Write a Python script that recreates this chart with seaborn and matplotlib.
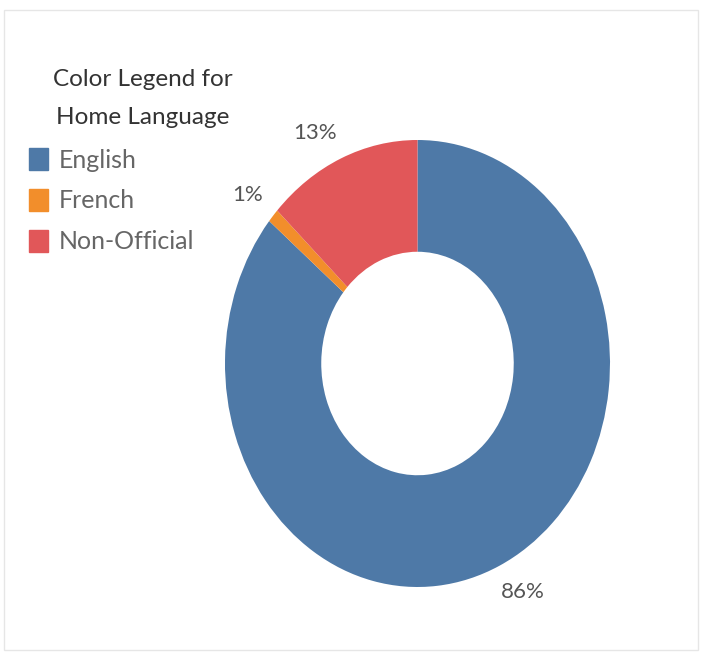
import numpy as np
import matplotlib.pyplot as plt
import matplotlib.patches as mpatches
import seaborn as sns

# home language shares (percent)
languages = ["English", "French", "Non-Official"]
shares = [86, 1, 13]
colors = ["#4e79a7", "#f28e2b", "#e15759"]

sns.set_theme(style="white")
plt.rcParams['font.family'] = ['Lato', 'DejaVu Sans']

fig = plt.figure(figsize=(7.02, 6.53), dpi=100)

# donut is a bit taller than wide in the reference, so no equal aspect
ax = fig.add_axes([225/702, 66/653, 385/702, 447/653])
wedges, texts = ax.pie(shares, colors=colors, startangle=90, counterclock=False,
                       radius=1, wedgeprops=dict(width=0.5, linewidth=0))
ax.set_aspect('auto')
ax.set_xlim(-1, 1)
ax.set_ylim(-1, 1)
ax.axis('off')

# percent labels just outside each wedge (small angle nudge like tableau does)
nudge = [3, 1, 4]
for w, s, n in zip(wedges, shares, nudge):
    ang = np.deg2rad((w.theta1 + w.theta2) / 2 + n)
    ax.text(1.16 * np.cos(ang), 1.16 * np.sin(ang), '{}%'.format(s),
            ha="center", va="center", fontsize=16, color="#555555")

# legend at top left
fig.text(143/702, 1 - 79/653, "Color Legend for", ha="center", va="center",
         fontsize=17.5, color="#333333")
fig.text(143/702, 1 - 117/653, "Home Language", ha="center", va="center",
         fontsize=17.5, color="#333333")
handles = [mpatches.Patch(color=c, label=l) for c, l in zip(colors, languages)]
fig.legend(handles=handles, loc="upper left", bbox_to_anchor=(19/702, 1 - 138/653),
           frameon=False, fontsize=18, handlelength=0.75, handleheight=1.0,
           handletextpad=0.45, labelspacing=0.68, labelcolor="#666666",
           borderaxespad=0)

# faint frame round the sheet
fig.patches.append(mpatches.Rectangle((4/702, 3/653), 1 - 8/702, 1 - 13/653,
                                      transform=fig.transFigure, fill=False,
                                      edgecolor="#e6e6e6", linewidth=1))

fig.savefig("out.png", dpi=100)
